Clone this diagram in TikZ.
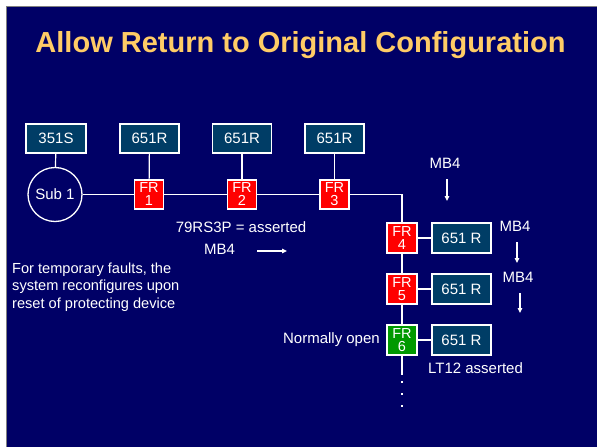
\documentclass[tikz,border=0pt]{standalone}
\usepackage{fontspec}
\setmainfont{Liberation Sans}
\usetikzlibrary{arrows.meta}
\definecolor{navy}{HTML}{000066}
\definecolor{boxblue}{HTML}{003D66}
\definecolor{frred}{HTML}{FF0000}
\definecolor{frgreen}{HTML}{009900}
\definecolor{titlecol}{HTML}{FFCC66}
\begin{document}
\begin{tikzpicture}[x=1pt,y=-1pt,
  relbox/.style={draw=white,line width=1.3pt,fill=boxblue,minimum width=59pt,minimum height=29pt,inner sep=0pt,text=white,font=\fontsize{15}{17}\selectfont},
  frbox/.style={draw=white,line width=1.3pt,fill=frred,minimum width=29pt,minimum height=29pt,inner sep=0pt,text=white,align=center,font=\fontsize{14.5}{13}\selectfont},
  wire/.style={draw=white,line width=1.2pt},
  arr/.style={draw=white,line width=1.2pt,-{Triangle[length=5pt,width=4.5pt]}},
  lbl/.style={text=white,inner sep=0pt,font=\fontsize{15}{17.5}\selectfont}
]
\useasboundingbox (0,0) rectangle (597,447);
\fill[white] (0,0) rectangle (597,447);
\draw[fill=navy,draw=gray,line width=0.8pt] (6,6) rectangle (600,450);

\node[text=titlecol,inner sep=0pt,font=\bfseries\fontsize{29}{32}\selectfont] (title) at (300.5,45) {Allow Return to Original Configuration};

% top relay boxes
\node[relbox,minimum width=60pt] (t351) at (56,138.5) {351S};
\node[relbox] (r1) at (149.5,138.5) {651R};
\node[relbox] (r2) at (242,138.5) {651R};
\node[relbox] (r3) at (334.5,138.5) {651R};

% substation
\node[circle,draw=white,line width=1.3pt,minimum size=54pt,inner sep=0pt,text=white,font=\fontsize{15}{17}\selectfont] (sub) at (55,194.5) {Sub 1};

% fault recloser boxes
\node[frbox] (fr1) at (149,194.5) {FR\\1};
\node[frbox] (fr2) at (242,194.5) {FR\\2};
\node[frbox] (fr3) at (334.5,194.5) {FR\\3};
\coordinate (c1) at (402,194.5);
\node[frbox,minimum width=30pt,minimum height=30pt] (fr4) at (402,238) {FR\\4};
\node[frbox,minimum width=30pt,minimum height=30pt] (fr5) at (402,289) {FR\\5};
\node[frbox,minimum width=30pt,minimum height=30pt,fill=frgreen] (fr6) at (402,340) {FR\\6};

% right relay boxes
\node[relbox,minimum height=30pt] (b4) at (461.5,238) {651 R};
\node[relbox,minimum height=30pt] (b5) at (461.5,289) {651 R};
\node[relbox,minimum height=30pt] (b6) at (461.5,340) {651 R};

% wires
\draw[wire] (t351) -- (sub);
\draw[wire] (r1) -- (fr1);
\draw[wire] (r2) -- (fr2);
\draw[wire] (r3) -- (fr3);
\draw[wire] (sub) -- (fr1);
\draw[wire] (fr1) -- (fr2);
\draw[wire] (fr2) -- (fr3);
\draw[wire] (fr3) -- (c1) -- (fr4);
\draw[wire] (fr4) -- (fr5);
\draw[wire] (fr5) -- (fr6);
\draw[wire] (fr4) -- (b4);
\draw[wire] (fr5) -- (b5);
\draw[wire] (fr6) -- (b6);
\coordinate (tail) at (402,375);
\draw[wire] (fr6) -- (tail);
\foreach \yy [count=\i] in {382,394,406} {
  \node[fill=white,minimum size=2.6pt,inner sep=0pt] (dot\i) at (402,\yy) {};
}

% labels and arrows
\node[lbl] (mbA) at (445,163) {MB4};
\coordinate (aA1) at (447,179); \coordinate (aA2) at (447,201);
\draw[arr] (aA1) -- (aA2);
\node[lbl] (mbB) at (515,226) {MB4};
\coordinate (aB1) at (517,242); \coordinate (aB2) at (517,263);
\draw[arr] (aB1) -- (aB2);
\node[lbl] (mbC) at (518,277) {MB4};
\coordinate (aC1) at (520,293); \coordinate (aC2) at (520,313);
\draw[arr] (aC1) -- (aC2);

\node[lbl] (rs) at (241,227) {79RS3P = asserted};
\node[lbl] (mbD) at (219.5,249) {MB4};
\coordinate (aD1) at (257,251); \coordinate (aD2) at (287,251);
\draw[arr] (aD1) -- (aD2);

\node[lbl,anchor=north west,align=left,font=\fontsize{14.6}{17.5}\selectfont] (para) at (12,262.5) {For temporary faults, the\\system reconfigures upon\\reset of protecting device};

\node[lbl,anchor=east] (no) at (380,340) {Normally open};
\node[lbl] (lt) at (475.5,368) {LT12 asserted};
\end{tikzpicture}
\end{document}
